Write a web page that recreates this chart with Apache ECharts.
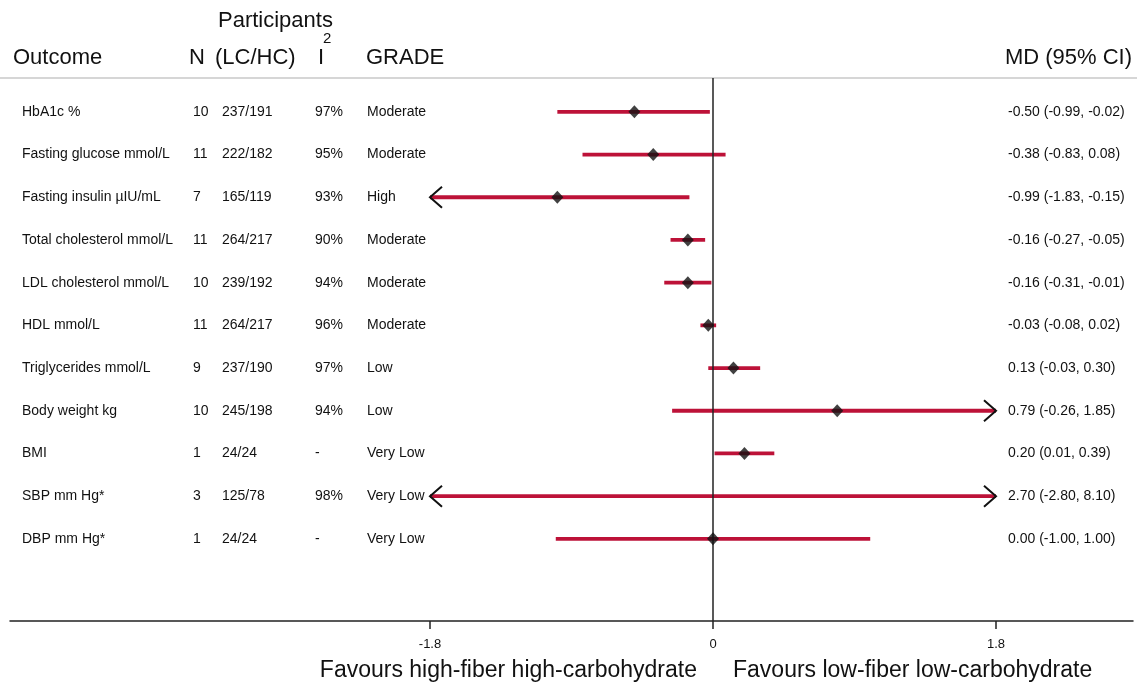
<!DOCTYPE html>
<html>
<head>
<meta charset="utf-8">
<script src="https://cdn.jsdelivr.net/npm/echarts@6/dist/echarts.min.js"></script>
<style>
  html, body { margin: 0; padding: 0; background: #fff; }
  #forest { width: 1137px; height: 684px; }
</style>
</head>
<body>
<div id="forest"></div>
<script>
var chart = echarts.init(document.getElementById('forest'));
var FONT = '"Liberation Sans", Arial, Helvetica, sans-serif';
var RED = '#bd1238';
var INK = '#111';

/* table columns */
var outcomes = ['HbA1c %', 'Fasting glucose mmol/L', 'Fasting insulin \u00b5IU/mL', 'Total cholesterol mmol/L',
  'LDL cholesterol mmol/L', 'HDL mmol/L', 'Triglycerides mmol/L', 'Body weight kg', 'BMI', 'SBP mm Hg*', 'DBP mm Hg*'];
var nStudies = [10, 11, 7, 11, 10, 11, 9, 10, 1, 3, 1];
var participants = ['237/191', '222/182', '165/119', '264/217', '239/192', '264/217', '237/190', '245/198', '24/24', '125/78', '24/24'];
var i2 = ['97%', '95%', '93%', '90%', '94%', '96%', '97%', '94%', '-', '98%', '-'];
var grade = ['Moderate', 'Moderate', 'High', 'Moderate', 'Moderate', 'Moderate', 'Low', 'Low', 'Very Low', 'Very Low', 'Very Low'];

/* mean difference and 95% CI */
var md    = [-0.50, -0.38, -0.99, -0.16, -0.16, -0.03, 0.13, 0.79, 0.20, 2.70, 0.00];
var lower = [-0.99, -0.83, -1.83, -0.27, -0.31, -0.08, -0.03, -0.26, 0.01, -2.80, -1.00];
var upper = [-0.02, 0.08, -0.15, -0.05, -0.01, 0.02, 0.30, 1.85, 0.39, 8.10, 1.00];

/* x axis */
var xMin = -1.8, xMax = 1.8;
var xTicks = [-1.8, 0, 1.8];

function fmt(v) { return v.toFixed(2); }
var mdText = md.map(function (v, i) {
  return fmt(v) + ' (' + fmt(lower[i]) + ', ' + fmt(upper[i]) + ')';
});

// pixel scale of the plot region (430 -> -1.8, 996 -> 1.8)
var plotL = 430, plotR = 996;
var pxPerUnit = (plotR - plotL) / (xMax - xMin);
var fullL = 10, fullR = 1133;
var fullMin = xMin - (plotL - fullL) / pxPerUnit;
var fullMax = xMax + (fullR - plotR) / pxPerUnit;

var ciData = lower.map(function (lo, i) { return [lo, i, upper[i]]; });
var ptData = md.map(function (v, i) { return [v, i]; });

function ciItem(params, api) {
  var lo = api.value(0), row = api.value(1), hi = api.value(2);
  var p1 = api.coord([Math.max(lo, xMin), row]);
  var p2 = api.coord([Math.min(hi, xMax), row]);
  var kids = [{
    type: 'line',
    shape: { x1: p1[0], y1: p1[1], x2: p2[0], y2: p2[1] },
    style: { stroke: RED, lineWidth: 3.8 }
  }];
  var aw = 12, ah = 10.5;
  if (lo < xMin) {
    kids.push({ type: 'polyline',
      shape: { points: [[p1[0] + aw, p1[1] - ah], [p1[0], p1[1]], [p1[0] + aw, p1[1] + ah]] },
      style: { stroke: INK, lineWidth: 2, fill: null } });
  }
  if (hi > xMax) {
    kids.push({ type: 'polyline',
      shape: { points: [[p2[0] - aw, p2[1] - ah], [p2[0], p2[1]], [p2[0] - aw, p2[1] + ah]] },
      style: { stroke: INK, lineWidth: 2, fill: null } });
  }
  return { type: 'group', children: kids };
}

var rowRich = {
  a: { width: 171, fontSize: 14, fontFamily: FONT, color: INK },
  b: { width: 29, fontSize: 14, fontFamily: FONT, color: INK },
  c: { width: 93, fontSize: 14, fontFamily: FONT, color: INK },
  d: { width: 52, fontSize: 14, fontFamily: FONT, color: INK },
  e: { width: 60, fontSize: 14, fontFamily: FONT, color: INK }
};

function headText(x, y, txt, size, align) {
  return { type: 'text', x: x, y: y,
    style: { text: txt, font: size + 'px ' + FONT, fill: INK, textAlign: align || 'left', textVerticalAlign: 'middle' } };
}

var option = {
  backgroundColor: '#fff',
  animation: false,
  grid: [
    { left: plotL, right: 1137 - plotR, top: 90.5, bottom: 123.8 },
    { left: fullL, right: 1137 - fullR, top: 78, bottom: 63 }
  ],
  xAxis: [
    { gridIndex: 0, type: 'value', min: xMin, max: xMax, show: false },
    {
      gridIndex: 1, type: 'value', min: fullMin, max: fullMax,
      splitLine: { show: false },
      axisLine: { show: true, onZero: false, lineStyle: { color: '#222', width: 1.5 } },
      axisTick: { show: true, customValues: xTicks, length: 8, lineStyle: { color: '#222', width: 1.5 } },
      axisLabel: { show: true, customValues: xTicks, margin: 17, fontSize: 13, fontFamily: FONT, color: INK,
        formatter: function (v) { return String(Math.round(v * 10) / 10); } }
    }
  ],
  yAxis: [
    {
      gridIndex: 0, type: 'category', inverse: true, data: outcomes,
      axisLine: { show: false }, axisTick: { show: false }, splitLine: { show: false },
      axisLabel: {
        align: 'left', margin: plotL - 22, interval: 0,
        formatter: function (v, i) {
          return '{a|' + outcomes[i] + '}{b|' + nStudies[i] + '}{c|' + participants[i] + '}{d|' + i2[i] + '}{e|' + grade[i] + '}';
        },
        rich: rowRich
      }
    },
    {
      gridIndex: 0, type: 'category', inverse: true, position: 'right', data: mdText,
      axisLine: { show: false }, axisTick: { show: false }, splitLine: { show: false },
      axisLabel: { align: 'left', margin: 12, interval: 0, fontSize: 14, fontFamily: FONT, color: INK }
    },
    { gridIndex: 1, type: 'value', min: 0, max: 1, show: false }
  ],
  series: [
    {
      name: 'zero', type: 'scatter', xAxisIndex: 1, yAxisIndex: 2, data: [[0, 0]], symbolSize: 0,
      silent: true, z: 3,
      markLine: {
        silent: true, symbol: 'none', label: { show: false },
        lineStyle: { color: '#222', width: 1.5, type: 'solid' },
        data: [[{ coord: [0, 0] }, { coord: [0, 1] }]]
      }
    },
    {
      name: 'CI', type: 'custom', xAxisIndex: 0, yAxisIndex: 0, data: ciData,
      renderItem: ciItem, z: 2
    },
    {
      name: 'MD', type: 'scatter', xAxisIndex: 0, yAxisIndex: 0, data: ptData,
      symbol: 'diamond', symbolSize: [12, 13], itemStyle: { color: INK }, z: 5
    }
  ],
  graphic: [
    { type: 'line', shape: { x1: 0, y1: 78, x2: 1137, y2: 78 }, style: { stroke: '#c8c8c8', lineWidth: 1.5 }, z: 1 },
    headText(13, 58, 'Outcome', 22),
    headText(189, 58, 'N', 22),
    headText(218, 21, 'Participants', 22),
    headText(215, 58, '(LC/HC)', 22),
    headText(318, 58, 'I', 22),
    headText(323, 39, '2', 15),
    headText(366, 58, 'GRADE', 22),
    headText(1132, 58, 'MD (95% CI)', 22, 'right'),
    headText(697, 671, 'Favours high-fiber high-carbohydrate', 23, 'right'),
    headText(733, 671, 'Favours low-fiber low-carbohydrate', 23)
  ]
};

chart.setOption(option);
</script>
</body>
</html>
